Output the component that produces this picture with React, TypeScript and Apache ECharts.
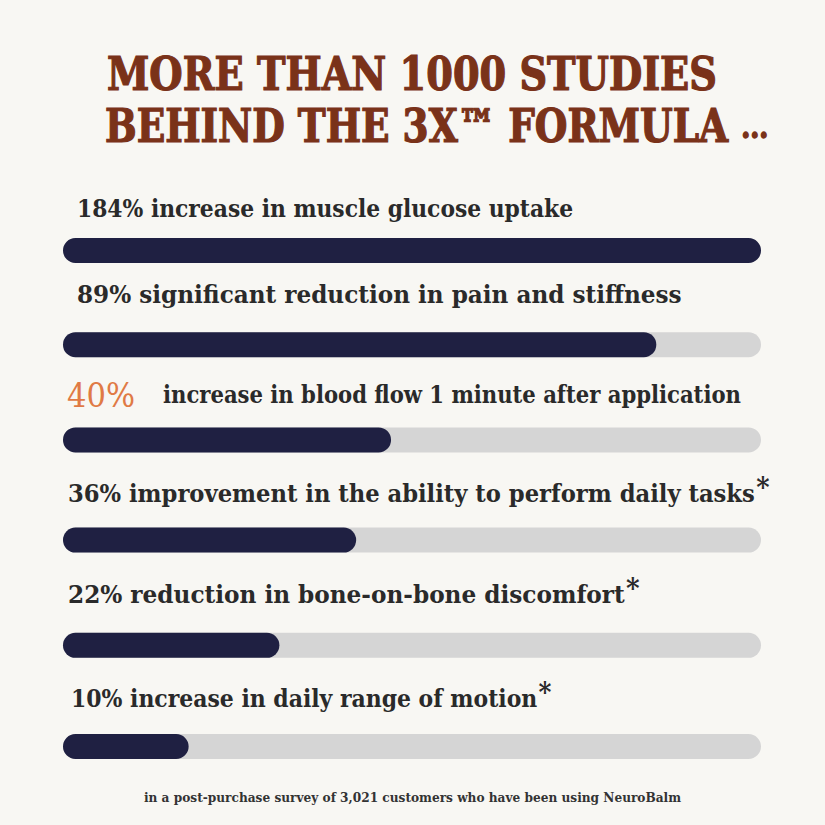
import React, { useEffect, useRef } from 'react';
import * as echarts from 'echarts';

// ---- data ----
const percents = ['184%', '89%', '40%', '36%', '22%', '10%'];
const descriptions = [
  'increase in muscle glucose uptake',
  'significant reduction in pain and stiffness',
  'increase in blood flow 1 minute after application',
  'improvement in the ability to perform daily tasks',
  'reduction in bone-on-bone discomfort',
  'increase in daily range of motion',
];
const footnoted = [false, false, false, true, true, true];
const fillValues = [100, 85, 47, 42, 31, 18];
const trackMax = 100;
const titleLines = ['MORE THAN 1000 STUDIES', 'BEHIND THE 3X\u2122 FORMULA '];
const titleEllipsis = '...';
const footnoteText = 'in a post-purchase survey of 3,021 customers who have been using NeuroBalm';

// ---- layout / style ----
const highlightRow = 2;
const rowNudge = [0, -5, -9, -8, -2, 0];
const labelDx = [14, 14, 4, 5, 5, 8];
const labelDy = [-42, -50, -45, -46, -50, -48];
const labelScale = [1.011, 1.072, 0.98, 1.05, 1.074, 1.017];
const highlightTextDx = 100;
const barH = 25;
const FONT = '"DejaVu Serif Condensed", "DejaVu Serif", serif';
const BG = '#f8f7f3';
const TRACK = '#d5d5d5';
const FILL = '#1f2042';
const TEXT = '#2a2a2a';
const BROWN = '#7a3219';
const ORANGE = '#e07a45';

export default function App() {
  const ref = useRef<HTMLDivElement>(null);
  useEffect(() => {
    if (!ref.current) return;
    const chart = echarts.init(ref.current, undefined, { renderer: 'svg' });
    chart.setOption({
      animation: false,
      backgroundColor: BG,
      grid: { left: 63, right: 64, top: 200.9, bottom: 28.9 },
      xAxis: { type: 'value', min: 0, max: trackMax, show: false },
      yAxis: { type: 'category', data: percents, inverse: true, show: false },
      graphic: [
        {
          type: 'text', x: 107, y: 50, scaleX: 0.925,
          style: {
            text: titleLines[0], font: `bold 46px ${FONT}`, fill: BROWN,
            stroke: BROWN, lineWidth: 1.2,
          },
        },
        {
          type: 'text', x: 105, y: 103, scaleX: 0.905,
          style: {
            text: `{t|${titleLines[1]}}{e|${titleEllipsis}}`,
            rich: {
              t: { fontFamily: FONT, fontWeight: 'bold', fontSize: 46, fill: BROWN, stroke: BROWN, lineWidth: 1.2 },
              e: { fontFamily: FONT, fontWeight: 'bold', fontSize: 32, fill: BROWN, stroke: BROWN, lineWidth: 1.5 },
            },
          },
        },
        {
          type: 'text', left: 'center', top: 790,
          style: { text: footnoteText, font: `bold 13.5px ${FONT}`, fill: '#333333' },
        },
      ],
      series: [
        {
          type: 'custom',
          encode: { x: 0, y: 1 },
          data: fillValues.map((v, i) => [v, i]),
          renderItem: (params: any, api: any) => {
            const i = params.dataIndex;
            const v = api.value(0);
            const start = api.coord([0, i]);
            const end = api.coord([trackMax, i]);
            const fe = api.coord([v, i]);
            const cy = start[1] + rowNudge[i];
            const children: any[] = [
              {
                type: 'rect',
                shape: { x: start[0], y: cy - barH / 2, width: end[0] - start[0], height: barH, r: barH / 2 },
                style: { fill: TRACK },
              },
              {
                type: 'rect',
                shape: { x: start[0], y: cy - barH / 2, width: fe[0] - start[0], height: barH, r: barH / 2 },
                style: { fill: FILL },
              },
            ];
            const star = footnoted[i] ? '{s|*}' : '';
            const rich = {
              p: { fontFamily: FONT, fontWeight: 'bold', fontSize: 24, fill: TEXT },
              d: { fontFamily: FONT, fontWeight: 'bold', fontSize: 24, fill: TEXT },
              s: { fontFamily: FONT, fontWeight: 'bold', fontSize: 27, fill: TEXT, padding: [0, 0, 12, 1] },
            };
            if (i === highlightRow) {
              children.push({
                type: 'text',
                x: start[0] + labelDx[i],
                y: cy + labelDy[i],
                style: {
                  text: percents[i], font: `34px ${FONT}`, fill: ORANGE,
                  align: 'left', verticalAlign: 'middle',
                },
              });
              children.push({
                type: 'text',
                x: start[0] + highlightTextDx,
                y: cy + labelDy[i],
                scaleX: labelScale[i],
                style: {
                  text: `{d|${descriptions[i]}}${star}`, rich,
                  align: 'left', verticalAlign: 'middle',
                },
              });
            } else {
              children.push({
                type: 'text',
                x: start[0] + labelDx[i],
                y: cy + labelDy[i],
                scaleX: labelScale[i],
                style: {
                  text: `{p|${percents[i]} }{d|${descriptions[i]}}${star}`, rich,
                  align: 'left', verticalAlign: 'middle',
                },
              });
            }
            return { type: 'group', children };
          },
        },
      ],
    });
    return () => chart.dispose();
  }, []);
  return (
    <div
      ref={ref}
      style={{ position: 'fixed', left: 0, top: 0, width: 825, height: 825 }}
    />
  );
}
